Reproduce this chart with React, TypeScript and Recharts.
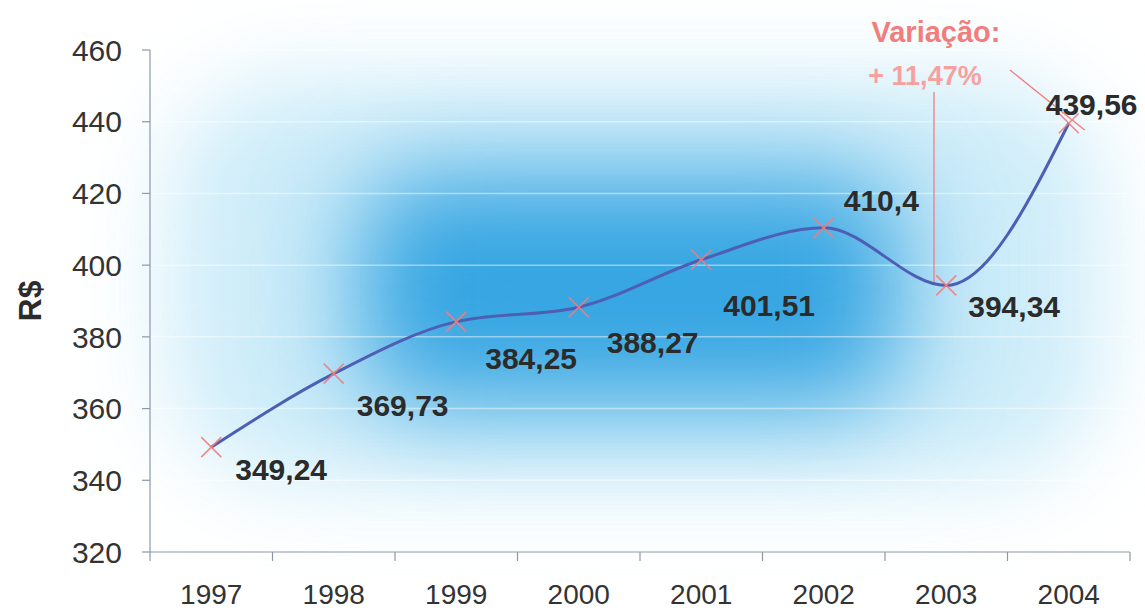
import React from 'react'
import { LineChart, Line, XAxis, YAxis, CartesianGrid, ReferenceLine } from 'recharts'

// Salário mínimo médio anual (R$)
const years = ['1997', '1998', '1999', '2000', '2001', '2002', '2003', '2004']
const values = [349.24, 369.73, 384.25, 388.27, 401.51, 410.4, 394.34, 439.56]
const valueLabels = ['349,24', '369,73', '384,25', '388,27', '401,51', '410,4', '394,34', '439,56']
const yTicks = [320, 340, 360, 380, 400, 420, 440, 460]

const data = years.map((year, i) => ({ idx: i, year, value: values[i], label: valueLabels[i] }))

// category boundaries, where the x-axis tick marks sit
const boundaries = years.map((_, i) => i - 0.5).concat(years.length - 0.5)

// where each value label sits relative to its point (dx = left edge, dy = baseline)
const labelShift = [
  { dx: 24, dy: 33 },
  { dx: 23, dy: 42 },
  { dx: 29, dy: 47 },
  { dx: 28, dy: 46 },
  { dx: 22, dy: 56 },
  { dx: 20, dy: -17 },
  { dx: 22, dy: 32 },
  { dx: -23, dy: -8 },
]

const FONT = '"Liberation Sans", Arial, sans-serif'
const PINK = '#f27d7d'
const AXIS = '#8c98a8'

const CrossDot = (props: any) => {
  const { cx, cy, index } = props
  if (cx == null || cy == null) return null
  const s = 10
  return (
    <g key={`dot-${index}`} stroke={PINK} strokeWidth={1.6} opacity={0.9}>
      <line x1={cx - s} y1={cy - s} x2={cx + s} y2={cy + s} />
      <line x1={cx - s} y1={cy + s} x2={cx + s} y2={cy - s} />
    </g>
  )
}

const ValueLabel = (props: any) => {
  const { x, y, index } = props
  const shift = labelShift[index] ?? { dx: 20, dy: 30 }
  return (
    <text
      x={x + shift.dx}
      y={y + shift.dy}
      fontFamily={FONT}
      fontWeight={700}
      fontSize={30}
      fill="#2b2b2b"
    >
      {valueLabels[index]}
    </text>
  )
}

export default function App() {
  return (
    <div style={{ position: 'fixed', left: 0, top: 0, width: 1145, height: 614, background: '#fff', overflow: 'hidden' }}>
      {/* soft blue glow behind the plot */}
      <div
        style={{
          position: 'absolute',
          left: 170,
          top: 80,
          width: 930,
          height: 400,
          background: '#c4e9f8',
          filter: 'blur(45px)',
          opacity: 0.85,
          borderRadius: 120,
        }}
      />
      <div
        style={{
          position: 'absolute',
          left: 360,
          top: 175,
          width: 540,
          height: 230,
          background: '#36a5e2',
          filter: 'blur(50px)',
          borderRadius: 60,
        }}
      />
      <div style={{ position: 'absolute', left: 0, top: 0 }}>
        <LineChart width={1145} height={614} data={data} margin={{ top: 50, right: 15, bottom: 3, left: 80 }}>
          <CartesianGrid horizontal vertical={false} stroke="#ffffff" strokeOpacity={0.45} strokeWidth={1.5} />
          <XAxis
            xAxisId="bounds"
            type="number"
            dataKey="idx"
            domain={[-0.5, years.length - 0.5]}
            ticks={boundaries}
            interval={0}
            tickFormatter={() => ''}
            tickSize={9}
            height={9}
            axisLine={{ stroke: AXIS, strokeWidth: 1.2 }}
            tickLine={{ stroke: AXIS, strokeWidth: 1.2 }}
          />
          <XAxis
            xAxisId="years"
            type="number"
            dataKey="idx"
            domain={[-0.5, years.length - 0.5]}
            ticks={years.map((_, i) => i)}
            tickFormatter={(i: number) => years[i]}
            interval={0}
            axisLine={false}
            tickLine={false}
            tickSize={0}
            tickMargin={23}
            height={50}
            tick={{ fontFamily: FONT, fontSize: 28, fill: '#333' }}
          />
          <YAxis
            domain={[320, 460]}
            ticks={yTicks}
            interval={0}
            width={70}
            tickSize={8}
            tickMargin={20}
            axisLine={{ stroke: AXIS, strokeWidth: 1.2 }}
            tickLine={{ stroke: AXIS, strokeWidth: 1.2 }}
            tick={{ fontFamily: FONT, fontSize: 30, fill: '#333' }}
            label={{
              value: 'R$',
              angle: -90,
              position: 'insideLeft',
              offset: -50,
              style: { fontFamily: FONT, fontSize: 32, fontWeight: 700, fill: '#2b2b2b', textAnchor: 'middle' },
            }}
          />
          {/* Variação annotation pointers */}
          <ReferenceLine
            xAxisId="years"
            segment={[{ x: 5.9, y: 448.3 }, { x: 5.9, y: 394.6 }]}
            stroke={PINK}
            strokeWidth={1.3}
            ifOverflow="visible"
          />
          <ReferenceLine
            xAxisId="years"
            segment={[{ x: 6.52, y: 454.4 }, { x: 7.13, y: 437.7 }]}
            stroke={PINK}
            strokeWidth={1.3}
            ifOverflow="visible"
          />
          <Line
            xAxisId="years"
            type="monotone"
            dataKey="value"
            stroke="#4d5fb4"
            strokeWidth={3}
            dot={CrossDot}
            activeDot={false}
            label={ValueLabel}
            isAnimationActive={false}
          />
          <text x={936} y={42} textAnchor="middle" fontFamily={FONT} fontWeight={700} fontSize={29} fill={PINK}>
            Variação:
          </text>
          <text x={925} y={85} textAnchor="middle" fontFamily={FONT} fontWeight={700} fontSize={27} fill="#f6a0a0">
            + 11,47%
          </text>
        </LineChart>
      </div>
    </div>
  )
}
